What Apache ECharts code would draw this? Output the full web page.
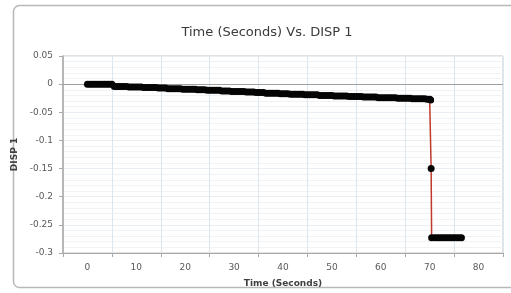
<!DOCTYPE html>
<html>
<head>
<meta charset="utf-8">
<script src="https://cdn.jsdelivr.net/npm/echarts@6/dist/echarts.min.js"></script>
<style>
html,body{margin:0;padding:0;background:#fff;}
#chart{width:511px;height:293px;}
</style>
</head>
<body>
<div id="chart"></div>
<script>
// Data
var titleText = 'Time (Seconds) Vs. DISP 1';
var xAxisTitle = 'Time (Seconds)';
var yAxisTitle = 'DISP 1';
var timeSeconds = [
  0,0.5,1,1.5,2,2.5,3,3.5,4,4.5,5,5.5,6,6.5,7,7.5,8,8.5,9,9.5,
  10,10.5,11,11.5,12,12.5,13,13.5,14,14.5,15,15.5,16,16.5,17,17.5,18,18.5,19,19.5,
  20,20.5,21,21.5,22,22.5,23,23.5,24,24.5,25,25.5,26,26.5,27,27.5,28,28.5,29,29.5,
  30,30.5,31,31.5,32,32.5,33,33.5,34,34.5,35,35.5,36,36.5,37,37.5,38,38.5,39,39.5,
  40,40.5,41,41.5,42,42.5,43,43.5,44,44.5,45,45.5,46,46.5,47,47.5,48,48.5,49,49.5,
  50,50.5,51,51.5,52,52.5,53,53.5,54,54.5,55,55.5,56,56.5,57,57.5,58,58.5,59,59.5,
  60,60.5,61,61.5,62,62.5,63,63.5,64,64.5,65,65.5,66,66.5,67,67.5,68,68.5,69,69.5,
  70,70.2,70.3,70.4,
  71,71.5,72,72.5,73,73.5,74,74.5,75,75.5,76,76.5
];
var disp1 = [
  0,0,0,0,0,0,0,0,0,0,0,-0.004,-0.004,-0.004,-0.004,-0.004,-0.004,-0.005,-0.005,-0.005,
  -0.005,-0.005,-0.005,-0.006,-0.006,-0.006,-0.006,-0.006,-0.006,-0.007,-0.007,-0.007,-0.007,-0.008,-0.008,-0.008,-0.008,-0.008,-0.008,-0.009,
  -0.009,-0.009,-0.009,-0.009,-0.009,-0.010,-0.010,-0.010,-0.010,-0.011,-0.011,-0.011,-0.011,-0.011,-0.011,-0.012,-0.012,-0.012,-0.012,-0.013,
  -0.013,-0.013,-0.013,-0.013,-0.013,-0.014,-0.014,-0.014,-0.014,-0.015,-0.015,-0.015,-0.015,-0.016,-0.016,-0.016,-0.016,-0.016,-0.016,-0.017,
  -0.017,-0.017,-0.017,-0.018,-0.018,-0.018,-0.018,-0.018,-0.018,-0.019,-0.019,-0.019,-0.019,-0.019,-0.019,-0.020,-0.020,-0.020,-0.020,-0.020,
  -0.020,-0.021,-0.021,-0.021,-0.021,-0.021,-0.021,-0.022,-0.022,-0.022,-0.022,-0.022,-0.022,-0.023,-0.023,-0.023,-0.023,-0.023,-0.023,-0.024,
  -0.024,-0.024,-0.024,-0.024,-0.024,-0.024,-0.024,-0.025,-0.025,-0.025,-0.025,-0.025,-0.025,-0.026,-0.026,-0.026,-0.026,-0.026,-0.026,-0.027,
  -0.027,-0.028,-0.150,-0.273,
  -0.273,-0.273,-0.273,-0.273,-0.273,-0.273,-0.273,-0.273,-0.273,-0.273,-0.273,-0.273
];
var yTicks = [0.05, 0, -0.05, -0.1, -0.15, -0.2, -0.25, -0.3];
var xTickLabels = [0, 10, 20, 30, 40, 50, 60, 70, 80];

var points = timeSeconds.map(function (t, i) { return [t, disp1[i]]; });
var yMin = Math.min.apply(null, yTicks), yMax = Math.max.apply(null, yTicks);
var xMin = xTickLabels[0] - 5, xMax = xTickLabels[xTickLabels.length - 1] + 5;

var chart = echarts.init(document.getElementById('chart'));
var font = 'DejaVu Sans, Verdana, sans-serif';
chart.setOption({
  animation: false,
  backgroundColor: '#fff',
  graphic: [{
    type: 'rect',
    shape: { x: 13.5, y: 5.5, width: 510, height: 282, r: 6 },
    style: { fill: 'none', stroke: '#b8b8b8', lineWidth: 1.5 },
    z: -10
  }],
  title: {
    text: titleText,
    left: 262, top: 21, textAlign: 'center',
    textStyle: { fontFamily: font, fontSize: 13, fontWeight: 'normal', color: '#3a3a3a' }
  },
  grid: {
    left: 63, right: 8, top: 56, bottom: 38,
    show: true, borderColor: '#c4c4c4', borderWidth: 1
  },
  xAxis: [{
    type: 'value', position: 'bottom',
    min: xMin, max: xMax, interval: 10,
    name: xAxisTitle, nameLocation: 'middle', nameGap: 26,
    nameTextStyle: { fontFamily: font, fontSize: 9, fontWeight: 'bold', color: '#404040' },
    axisLine: { show: true, onZero: false, lineStyle: { color: '#a8a8a8', width: 1 } },
    axisTick: { show: true, length: 4, lineStyle: { color: '#a8a8a8' } },
    axisLabel: { show: false },
    splitLine: { show: true, lineStyle: { color: '#dbe6ef', width: 1 } }
  }, {
    type: 'value', position: 'bottom',
    min: xMin, max: xMax, interval: 5,
    axisLine: { show: false, onZero: false }, axisTick: { show: false }, splitLine: { show: false },
    axisLabel: {
      show: true, margin: 10, fontFamily: font, fontSize: 9, color: '#595959',
      formatter: function (v) {
        var r = Math.round(v);
        return xTickLabels.indexOf(r) >= 0 && Math.abs(v - r) < 1e-6 ? String(r) : '';
      }
    }
  }],
  yAxis: {
    type: 'value', min: yMin, max: yMax, interval: 0.05,
    name: yAxisTitle, nameLocation: 'middle', nameGap: 41, nameRotate: 90,
    nameTextStyle: { fontFamily: font, fontSize: 9, fontWeight: 'bold', color: '#404040' },
    axisLine: { show: true, onZero: false, lineStyle: { color: '#a8a8a8', width: 1.5 } },
    axisTick: { show: true, length: 4, lineStyle: { color: '#a8a8a8' } },
    axisLabel: {
      margin: 10, fontFamily: font, fontSize: 9, color: '#595959',
      formatter: function (v) {
        var r = Math.round(v * 100) / 100;
        return r === 0 ? '0' : String(r);
      }
    },
    splitLine: { show: true, lineStyle: { color: '#e8eef3', width: 1 } },
    minorTick: { show: false, splitNumber: 5 },
    minorSplitLine: { show: true, lineStyle: { color: '#f0f3f6', width: 1 } }
  },
  series: [{
    type: 'line',
    data: points,
    xAxisIndex: 0,
    symbol: 'circle', symbolSize: 7, showAllSymbol: true,
    itemStyle: { color: '#050505' },
    lineStyle: { color: '#c0392b', width: 1.5 },
    z: 5,
    markLine: {
      silent: true, symbol: 'none', label: { show: false },
      lineStyle: { color: '#a0a0a0', width: 1, type: 'solid' },
      data: [{ yAxis: 0 }],
      z: 1
    }
  }]
});
</script>
</body>
</html>
